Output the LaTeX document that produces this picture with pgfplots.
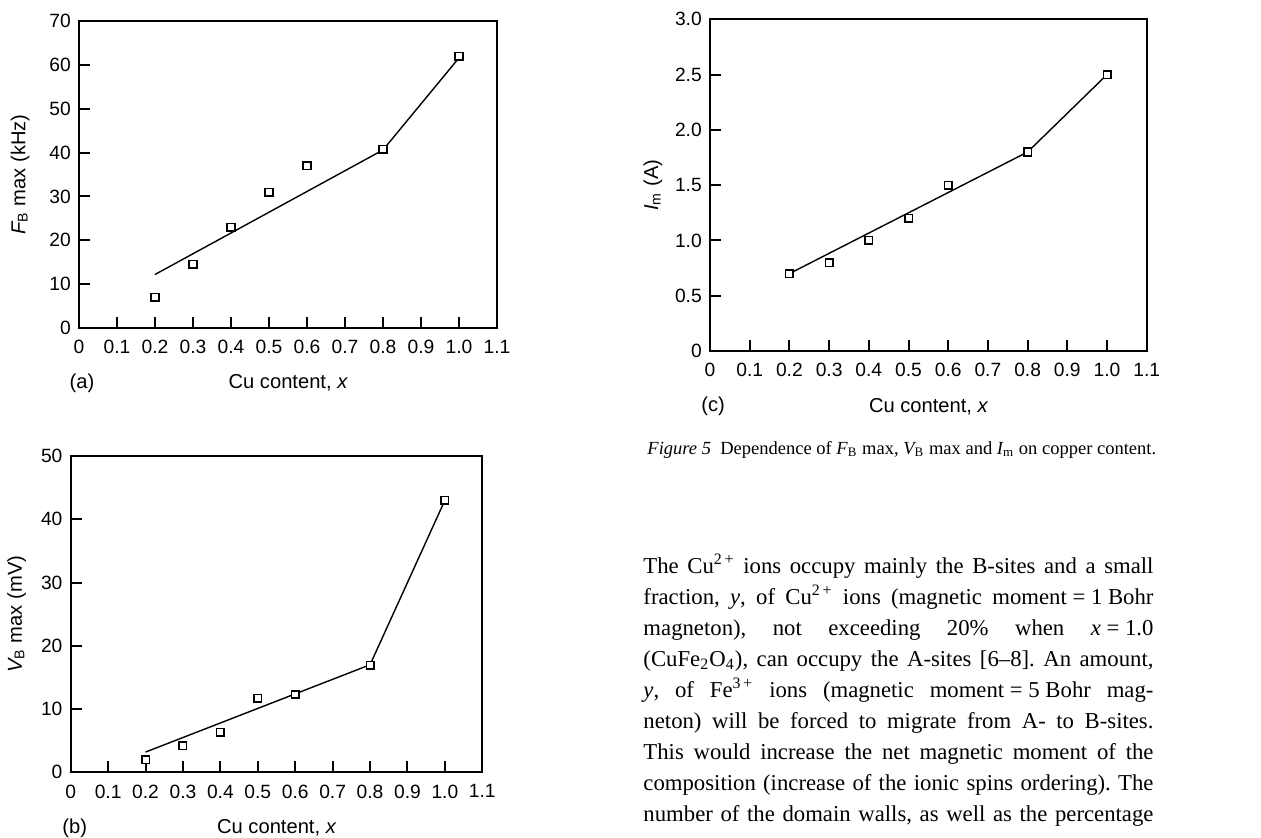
\documentclass[border=0pt]{standalone}
\usepackage{fontspec}
\setmainfont{Liberation Serif}
\newfontfamily\figsans{Liberation Sans}
\usepackage{pgfplots}
\pgfplotsset{compat=1.18}

% 1 px of the reference = 0.015cm
\pgfplotsset{
  cuaxis/.style={
    scale only axis, clip=false,
    xmin=0, xmax=1.1,
    axis line style={line width=0.85pt},
    tick align=inside, tick pos=left,
    major tick length=0.165cm,
    tick style={line width=0.85pt, black},
    xtick={0,0.1,0.2,0.3,0.4,0.5,0.6,0.7,0.8,0.9,1.0,1.1},
    xticklabels={0,0.1,0.2,0.3,0.4,0.5,0.6,0.7,0.8,0.9,1.0,1.1},
    /pgf/number format/assume math mode=true,
    tick label style={font=\figsans\fontsize{8.2}{9.6}\selectfont},
    xticklabel style={yshift=-0.06cm},
    label style={font=\figsans\fontsize{8.6}{10}\selectfont},
    xlabel={Cu content, {\itshape x}},
  },
  fitline/.style={black, line width=0.6pt, mark=none},
  pts/.style={only marks, mark=square*, mark size=1.6pt,
    mark options={fill=white, draw=black, line width=0.65pt}},
}

\newcommand{\txtline}[1]{\makebox[7.65cm][s]{#1}}

\begin{document}
\begin{tikzpicture}
\path[use as bounding box] (0,0) rectangle (18.915,-12.555);

% ---------- (a) F_B max ----------
\begin{axis}[cuaxis,
  at={(1.185cm,-4.92cm)}, anchor=south west,
  width=6.27cm, height=4.605cm,
  ymin=0, ymax=70, ytick={0,10,...,70},
  ylabel={{\itshape F}\textsubscript{B} max (kHz)},
  ylabel style={at={(axis description cs:-0.141,0.5)}, anchor=center},
  xlabel style={at={(axis description cs:0.5,-0.179)}, anchor=center},
]
\addplot[fitline] coordinates {(0.2,12.2) (0.8,40.6) (1.0,61.6)};
\addplot[pts] coordinates {(0.2,7) (0.3,14.5) (0.4,23) (0.5,31) (0.6,37) (0.8,40.8) (1.0,62)};
\node[font=\figsans\fontsize{8.6}{10}\selectfont] at (axis description cs:0.007,-0.179) {(a)};
\end{axis}

% ---------- (b) V_B max ----------
\begin{axis}[cuaxis,
  at={(1.0605cm,-11.5845cm)}, anchor=south west,
  width=6.174cm, height=4.7445cm,
  ymin=0, ymax=50, ytick={0,10,...,50},
  ylabel={{\itshape V}\textsubscript{B} max (mV)},
  ylabel style={at={(axis description cs:-0.131,0.5)}, anchor=center},
  xlabel style={at={(axis description cs:0.5,-0.176)}, anchor=center},
]
\addplot[fitline] coordinates {(0.2,3.2) (0.8,17) (1.0,43)};
\addplot[pts] coordinates {(0.2,2) (0.3,4.2) (0.4,6.3) (0.5,11.7) (0.6,12.3) (0.8,16.9) (1.0,43)};
\node[font=\figsans\fontsize{8.6}{10}\selectfont] at (axis description cs:0.010,-0.176) {(b)};
\end{axis}

% ---------- (c) I_m ----------
\begin{axis}[cuaxis,
  at={(10.65cm,-5.265cm)}, anchor=south west,
  width=6.5505cm, height=4.9755cm,
  ymin=0, ymax=3, ytick={0,0.5,1.0,1.5,2.0,2.5,3.0},
  yticklabels={0,0.5,1.0,1.5,2.0,2.5,3.0},
  ylabel={{\itshape I}\textsubscript{m} (A)},
  ylabel style={at={(axis description cs:-0.1305,0.5)}, anchor=center},
  xlabel style={at={(axis description cs:0.5,-0.168)}, anchor=center},
]
\addplot[fitline] coordinates {(0.2,0.7) (0.8,1.8) (1.0,2.5)};
\addplot[pts] coordinates {(0.2,0.7) (0.3,0.8) (0.4,1.0) (0.5,1.2) (0.6,1.5) (0.8,1.8) (1.0,2.5)};
\node[font=\figsans\fontsize{8.6}{10}\selectfont] at (axis description cs:0.007,-0.168) {(c)};
\end{axis}

% ---------- caption ----------
\node[anchor=base west, inner sep=0, font=\fontsize{7.9}{10}\selectfont] at (9.705,-6.81)
  {{\itshape Figure 5}\enspace Dependence of {\itshape F}\textsubscript{B} max, {\itshape V}\textsubscript{B} max and {\itshape I}\textsubscript{m} on copper content.};

% ---------- body text ----------
\tikzset{bodyline/.style={anchor=base west, inner sep=0, font=\fontsize{9.7}{12}\selectfont\frenchspacing}}
\node[bodyline] at (9.645,-8.595)  {\txtline{The Cu\textsuperscript{2\,+} ions occupy mainly the B-sites and a small}};
\node[bodyline] at (9.645,-9.06)   {\txtline{fraction, {\itshape y}, of Cu\textsuperscript{2\,+} ions (magnetic moment\mbox{ = 1 }Bohr}};
\node[bodyline] at (9.645,-9.525)  {\txtline{magneton), not exceeding 20\% when \mbox{{\itshape x} = 1.0}}};
\node[bodyline] at (9.645,-9.99)   {\txtline{(CuFe\textsubscript{2}O\textsubscript{4}), can occupy the A-sites [6--8]. An amount,}};
\node[bodyline] at (9.645,-10.455) {\txtline{{\itshape y}, of Fe\textsuperscript{3\,+} ions (magnetic moment\mbox{ = 5 }Bohr mag-}};
\node[bodyline] at (9.645,-10.92)  {\txtline{neton) will be forced to migrate from A- to B-sites.}};
\node[bodyline] at (9.645,-11.385) {\txtline{This would increase the net magnetic moment of the}};
\node[bodyline] at (9.645,-11.85)  {\txtline{composition (increase of the ionic spins ordering). The}};
\node[bodyline] at (9.645,-12.315) {\txtline{number of the domain walls, as well as the percentage}};
\end{tikzpicture}
\end{document}
